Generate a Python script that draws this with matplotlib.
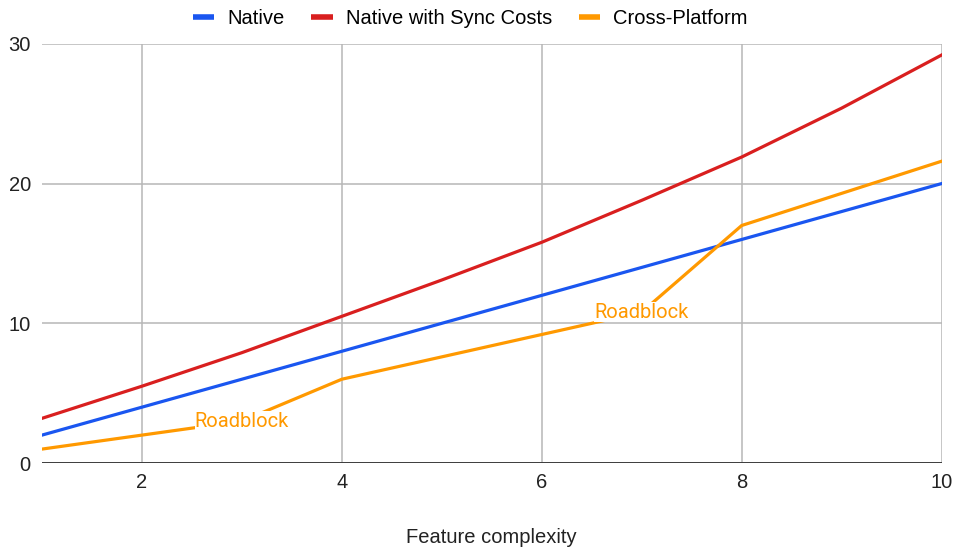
import matplotlib.pyplot as plt

# Chart values.
complexity = [1, 2, 3, 4, 5, 6, 7, 8, 9, 10]
native = [2, 4, 6, 8, 10, 12, 14, 16, 18, 20]
native_sync = [3.2, 5.5, 7.9, 10.5, 13.1, 15.8, 18.8, 21.9, 25.4, 29.2]
cross_platform = [1, 2, 3, 6, 7.6, 9.2, 10.8, 17, 19.3, 21.6]
roadblocks = [3, 7]
x_ticks = [2, 4, 6, 8, 10]
y_ticks = [0, 10, 20, 30]

BLUE = '#1a56f0'
RED = '#d91f1f'
ORANGE = '#ff9900'
FS = 14.5


def main():
    plt.rcParams['font.family'] = ['Liberation Sans', 'DejaVu Sans']

    fig = plt.figure(figsize=(9.54, 5.48), dpi=100)
    ax = fig.add_axes([0.044, 0.155, 0.943, 0.765])

    ax.plot(complexity, native, color=BLUE, lw=2.3, label='Native', zorder=3)
    ax.plot(complexity, native_sync, color=RED, lw=2.3, label='Native with Sync Costs', zorder=3)
    ax.plot(complexity, cross_platform, color=ORANGE, lw=2.3, label='Cross-Platform', zorder=3)

    # Annotations sit centred on the point, with a white box that hides the line.
    for x in roadblocks:
        y = cross_platform[complexity.index(x)]
        ax.text(x, y, 'Roadblock', ha='center', va='center', color=ORANGE,
                fontsize=FS, family='Roboto', zorder=4,
                bbox=dict(facecolor='white', edgecolor='none', pad=0.2))

    ax.set_xlim(1, 10)
    ax.set_ylim(0, 30)
    ax.set_xticks(x_ticks)
    ax.set_yticks(y_ticks)
    ax.tick_params(axis='y', length=0, labelsize=FS, colors='#222222', pad=8)
    ax.tick_params(axis='x', length=0, labelsize=FS, colors='#222222', pad=7)
    ax.grid(True, color='#b7b7b7', lw=1.1, zorder=1)
    ax.axhline(0, color='#333333', lw=1.3, zorder=2)
    for s in ax.spines.values():
        s.set_visible(False)

    ax.set_xlabel('Feature complexity', fontsize=FS, color='#222222', labelpad=26)

    leg = fig.legend(loc='upper center', bbox_to_anchor=(0.493, 1.016), ncol=3,
                     frameon=False, fontsize=FS, handlelength=1.05,
                     handletextpad=0.65, columnspacing=1.35)
    for h in leg.legend_handles:
        h.set_linewidth(4)
        h.set_solid_capstyle('butt')

    fig.savefig('out.png', dpi=100)


if __name__ == '__main__':
    main()
